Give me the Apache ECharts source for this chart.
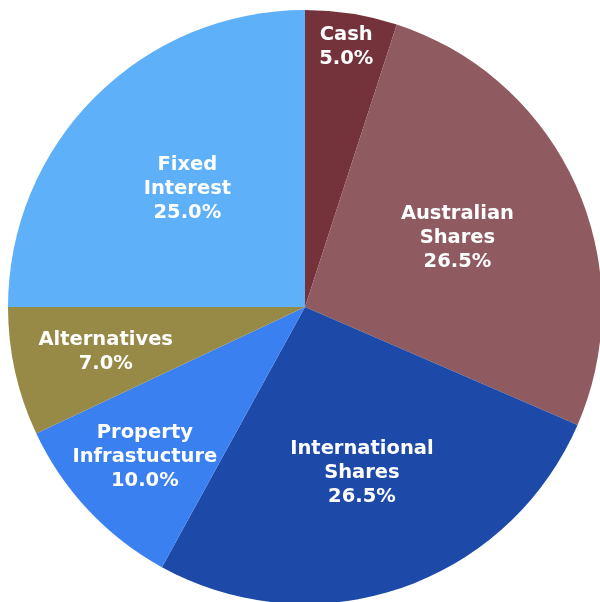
<!DOCTYPE html>
<html>
<head>
<meta charset="utf-8">
<script src="https://cdn.jsdelivr.net/npm/echarts@6/dist/echarts.min.js"></script>
<style>
  html, body { margin: 0; padding: 0; background: #fff; }
  #main { width: 600px; height: 602px; }
</style>
</head>
<body>
<div id="main"></div>
<script>
  // asset classes, clockwise from 12 o'clock
  var categories = ['Cash', 'Australian\nShares', 'International\nShares', 'Property\nInfrastucture', 'Alternatives', 'Fixed\nInterest'];
  var weights = [5.0, 26.5, 26.5, 10.0, 7.0, 25.0];
  var colors = ['#74323b', '#8f5b60', '#1d4aa8', '#3a80f1', '#968a46', '#5eb0f9'];

  // how far out each label sits, as share of the radius
  var labelReach = [0.87, 0.552, 0.58, 0.725, 0.674, 0.549];

  var cx = 305, cy = 307, R = 297;

  var pieData = categories.map(function (c, i) {
    return { name: c, value: weights[i], itemStyle: { color: colors[i] } };
  });

  var chart = echarts.init(document.getElementById('main'));
  chart.setOption({
    animation: false,
    series: [{
      type: 'pie',
      center: [cx, cy],
      radius: [0, R],
      startAngle: 90,
      clockwise: true,
      avoidLabelOverlap: false,
      itemStyle: { borderWidth: 0 },
      emphasis: { disabled: true },
      label: {
        show: true,
        position: 'inside',
        color: '#fff',
        fontFamily: 'DejaVu Sans',
        fontWeight: 'bold',
        fontSize: 19.5,
        lineHeight: 24,
        align: 'center',
        formatter: function (p) {
          return p.name + '\n' + p.value.toFixed(1) + '%';
        }
      },
      labelLayout: function (p) {
        var r = p.labelRect;
        var mx = r.x + r.width / 2, my = r.y + r.height / 2;
        var k = labelReach[p.dataIndex] / 0.5 - 1;
        return { dx: (mx - cx) * k, dy: (my - cy) * k };
      },
      data: pieData
    }]
  });
</script>
</body>
</html>
